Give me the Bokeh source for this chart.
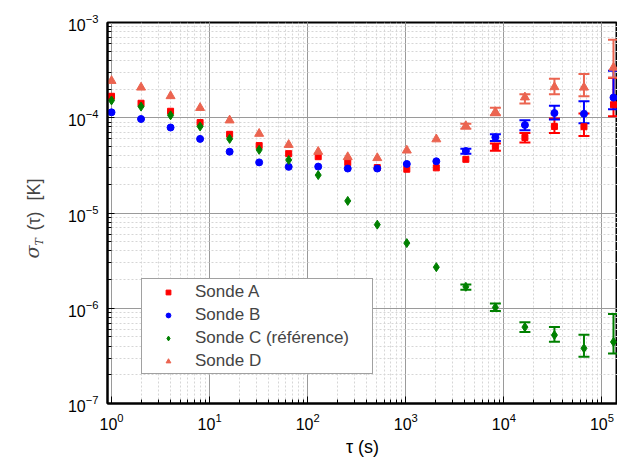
import math
from bokeh.plotting import figure
from bokeh.layouts import row
from bokeh.models import (ColumnDataSource, Whisker, TeeHead, Legend, LegendItem, Label)
from bokeh.embed import file_html
from bokeh.resources import INLINE

# ---- data ----
tau = [2 ** i for i in range(18)]
sonde_a = [1.68e-4, 1.42e-4, 1.17e-4, 8.9e-5, 6.7e-5, 5.1e-5, 4.2e-5, 3.9e-5, 3.38e-5,
           3.0e-5, 2.88e-5, 2.98e-5, 3.66e-5, 4.95e-5, 6.2e-5, 8.1e-5, 8.05e-5, 1.37e-4]
sonde_b = [1.14e-4, 9.7e-5, 7.9e-5, 6.0e-5, 4.4e-5, 3.4e-5, 3.05e-5, 3.07e-5, 2.93e-5,
           2.93e-5, 3.27e-5, 3.49e-5, 4.47e-5, 6.24e-5, 8.4e-5, 1.12e-4, 1.1e-4, 1.63e-4]
sonde_c = [1.52e-4, 1.31e-4, 1.06e-4, 8.1e-5, 6.0e-5, 4.6e-5, 3.6e-5, 2.5e-5, 1.34e-5,
           7.55e-6, 4.83e-6, 2.7e-6, 1.68e-6, 1.02e-6, 6.34e-7, 5.23e-7, 3.8e-7, 4.43e-7]
sonde_d = [2.44e-4, 2.08e-4, 1.69e-4, 1.27e-4, 9.4e-5, 6.8e-5, 5.2e-5, 4.4e-5, 3.87e-5,
           3.78e-5, 4.54e-5, 5.95e-5, 8.2e-5, 1.15e-4, 1.64e-4, 2.1e-4, 2.08e-4, 3.36e-4]

err_tau_a = [8192, 16384, 32768, 65536, 131072]
a_lower = [4.5e-5, 5.5e-5, 6.92e-5, 6.44e-5, 1.04e-4]
a_upper = [5.37e-5, 6.92e-5, 9.84e-5, 1.11e-4, 2.62e-4]

err_tau = [4096, 8192, 16384, 32768, 65536, 131072]
b_lower = [4.19e-5, 5.71e-5, 7.38e-5, 9.6e-5, 8.73e-5, 1.23e-4]
b_upper = [4.72e-5, 6.71e-5, 9.44e-5, 1.34e-4, 1.49e-4, 3.12e-4]
c_lower = [1.56e-6, 9.35e-7, 5.62e-7, 4.46e-7, 3.09e-7, 3.34e-7]
c_upper = [1.78e-6, 1.12e-6, 7.14e-7, 6.34e-7, 5.27e-7, 8.7e-7]
d_lower = [7.67e-5, 1.06e-4, 1.41e-4, 1.77e-4, 1.68e-4, 2.64e-4]
d_upper = [8.65e-5, 1.27e-4, 1.77e-4, 2.56e-4, 2.88e-4, 6.6e-4]

names = ["Sonde A", "Sonde B", "Sonde C (référence)", "Sonde D"]
colors = ["#FF0000", "#0000FF", "#008000", "#EB6450"]
markers = ["square", "circle", "diamond", "triangle"]
sizes = [6, 7, 9, 9]

FONT = "Liberation Sans"
LEFT_W = 50
HEIGHT = 459
TOTAL_W = 617

p = figure(width=TOTAL_W - LEFT_W, height=HEIGHT, x_axis_type="log", y_axis_type="log",
           x_range=(0.91, 1.44e5), y_range=(1e-7, 1e-3),
           output_backend="svg", toolbar_location=None,
           min_border_left=107 - LEFT_W, min_border_right=0, min_border_top=22,
           min_border_bottom=HEIGHT - 407,
           background_fill_color="white", border_fill_color="white")

p.outline_line_color = "black"
p.outline_line_width = 2

for ax in (p.xaxis[0], p.yaxis[0]):
    ax.axis_line_color = "black"
    ax.axis_line_width = 2
    ax.major_tick_in = 7
    ax.major_tick_out = 0
    ax.minor_tick_in = 4
    ax.minor_tick_out = 0
    ax.major_tick_line_color = "black"
    ax.minor_tick_line_color = "black"
    ax.major_label_text_font = FONT
    ax.major_label_text_font_size = "16px"
    ax.major_label_text_color = "black"
    ax.major_label_standoff = 9

p.xaxis.axis_label = "τ (s)"
p.xaxis.axis_label_text_font = FONT
p.xaxis.axis_label_text_font_size = "18px"
p.xaxis.axis_label_text_font_style = "normal"
p.xaxis.axis_label_text_color = "black"
p.xaxis.axis_label_standoff = 4

for g in (p.xgrid[0], p.ygrid[0]):
    g.grid_line_color = "#9a9a9a"
    g.grid_line_width = 1
    g.minor_grid_line_color = "#d6d6d6"
    g.minor_grid_line_dash = "2 2"
    g.minor_grid_line_width = 1

err_sets = [
    (err_tau_a, a_lower, a_upper),
    (err_tau, b_lower, b_upper),
    (err_tau, c_lower, c_upper),
    (err_tau, d_lower, d_upper),
]
for (ex, lo, hi), col in zip(err_sets, colors):
    src = ColumnDataSource(dict(x=ex, lower=lo, upper=hi))
    w = Whisker(source=src, base="x", lower="lower", upper="upper", dimension="height",
                line_color=col, line_width=2,
                upper_head=TeeHead(size=11, line_color=col, line_width=2),
                lower_head=TeeHead(size=11, line_color=col, line_width=2))
    p.add_layout(w)

series = [sonde_a, sonde_b, sonde_c, sonde_d]
items = []
for vals, col, mk, sz, name in zip(series, colors, markers, sizes, names):
    r = p.scatter(tau, vals, marker=mk, size=sz, fill_color=col, line_color=col)
    items.append(LegendItem(label=name, renderers=[r]))

legend = Legend(items=items, location=(34, 29), padding=1, spacing=0,
                glyph_width=50, glyph_height=12, label_height=23, label_standoff=2,
                label_width=176,
                label_text_font=FONT, label_text_font_size="17px",
                border_line_color="#444444", border_line_width=1,
                background_fill_color="white", background_fill_alpha=1.0, margin=0)
p.add_layout(legend, "center")

# y-axis label strip: sigma_T(tau) [K]  (its frame is aligned with the main frame: 22..407)
left = figure(width=LEFT_W, height=HEIGHT, output_backend="svg", toolbar_location=None,
              x_axis_location=None, y_axis_location=None,
              min_border_left=0, min_border_right=0, min_border_top=0, min_border_bottom=0,
              x_range=(0, 1), y_range=(0, 1))
left.outline_line_color = None
left.xgrid.visible = False
left.ygrid.visible = False

FB = 407  # frame bottom in picture pixels
rot = math.pi / 2
left.add_layout(Label(x=31, y=FB - 262, x_units="screen", y_units="screen", text="σ",
                      angle=rot, text_font="DejaVu Serif", text_font_style="italic",
                      text_font_size="19px", text_align="left", text_baseline="alphabetic"))
left.add_layout(Label(x=39, y=FB - 249, x_units="screen", y_units="screen", text="T",
                      angle=rot, text_font="DejaVu Serif", text_font_style="italic",
                      text_font_size="11px", text_align="left", text_baseline="alphabetic"))
left.add_layout(Label(x=33, y=FB - 234, x_units="screen", y_units="screen", text="(τ)",
                      angle=rot, text_font=FONT, text_font_size="18px",
                      text_align="left", text_baseline="alphabetic"))
left.add_layout(Label(x=33, y=FB - 204, x_units="screen", y_units="screen", text="[K]",
                      angle=rot, text_font=FONT, text_font_size="18px",
                      text_align="left", text_baseline="alphabetic"))

layout = row(left, p, spacing=0)

open("out.html", "w").write(file_html(layout, INLINE))
